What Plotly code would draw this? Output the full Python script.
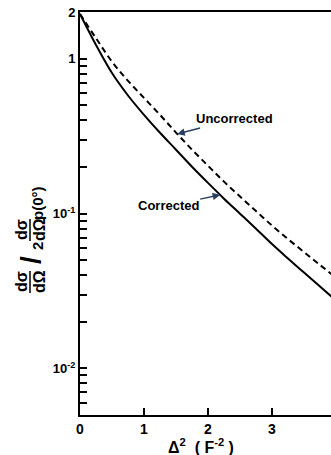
import numpy as np
import plotly.graph_objects as go

# ---- data ----
delta_sq = [0.0, 0.25, 0.5, 0.75, 1.0, 1.25, 1.5, 1.75, 2.0, 2.25, 2.5, 2.75, 3.0, 3.25, 3.5, 3.75, 4.0]
corrected = [1.95, 1.23, 0.81, 0.580, 0.435, 0.333, 0.259, 0.201, 0.158, 0.125, 0.100, 0.080, 0.0636, 0.0513, 0.0416, 0.0338, 0.0275]
uncorrected = [1.95, 1.36, 0.960, 0.722, 0.560, 0.435, 0.334, 0.259, 0.204, 0.161, 0.129, 0.104, 0.0838, 0.0685, 0.0565, 0.0466, 0.0386]

x_ticks = [0, 1, 2, 3]
x_ticklabels = ["0", "1", "2", "3"]
y_major = {2: "2", 1: "1", 0.1: "10<sup>-1</sup>", 0.01: "10<sup>-2</sup>"}
y_minor = [m * 10.0 ** e for e in (-3, -2, -1) for m in range(2, 10) if m * 10.0 ** e > 0.0055]

label_corrected_x = 2.19
label_uncorrected_x = 1.52

X_MAX = 3.922
Y_MIN, Y_MAX = 0.005, 2.0

FONT = "Liberation Sans"

fig = go.Figure()
fig.add_trace(go.Scatter(x=delta_sq, y=corrected, mode="lines",
                         line=dict(color="black", width=2, shape="spline", smoothing=1.0),
                         name="Corrected", showlegend=False))
fig.add_trace(go.Scatter(x=delta_sq, y=uncorrected, mode="lines",
                         line=dict(color="black", width=2, dash="6px,4px", shape="spline", smoothing=1.0),
                         name="Uncorrected", showlegend=False))

tickvals = sorted(set(y_minor) | set(y_major.keys()))
ticktext = [("<b>%s</b>" % y_major[v]) if v in y_major else "" for v in tickvals]

fig.update_layout(
    width=331, height=455,
    margin=dict(l=80, r=0, t=12, b=40),
    paper_bgcolor="white", plot_bgcolor="white",
    font=dict(family=FONT, color="black", size=14),
    xaxis=dict(range=[0, X_MAX], showgrid=False, zeroline=False, showline=True, linecolor="black",
               linewidth=2, mirror=True, ticks="inside", ticklen=7, tickwidth=2, tickcolor="black",
               tickvals=x_ticks, ticktext=["<b>%s</b>" % t for t in x_ticklabels],
               tickfont=dict(size=14, family=FONT)),
    yaxis=dict(type="log", range=[np.log10(Y_MIN), np.log10(Y_MAX) + 0.002], showgrid=False, zeroline=False,
               showline=True, linecolor="black", linewidth=2, mirror=False, ticks="inside", ticklen=7,
               tickwidth=2, tickcolor="black", tickvals=tickvals, ticktext=ticktext,
               tickfont=dict(size=13, family=FONT)),
)

# partially visible "4" tick label at the cut-off right edge
fig.add_annotation(xref="paper", yref="paper", x=4 / X_MAX, y=0, yshift=-12, text="<b>4</b>", showarrow=False,
                   xanchor="center", yanchor="middle", font=dict(size=14, family=FONT))

# curve labels
def interp_log(x, xs, ys):
    return float(10 ** np.interp(x, xs, np.log10(ys)))

fig.add_annotation(x=label_corrected_x, y=np.log10(interp_log(label_corrected_x, delta_sq, corrected)),
                   text="<b>Corrected</b>", showarrow=True, arrowhead=2, arrowsize=1, arrowwidth=1.5,
                   ax=-52, ay=11, xanchor="center", font=dict(size=13, family=FONT))
fig.add_annotation(x=label_uncorrected_x, y=np.log10(interp_log(label_uncorrected_x, delta_sq, uncorrected)),
                   text="<b>Uncorrected</b>", showarrow=True, arrowhead=2, arrowsize=1, arrowwidth=1.5,
                   ax=57, ay=-15, xanchor="center", font=dict(size=13, family=FONT))

# x-axis title
fig.add_annotation(xref="paper", yref="paper", x=0.482, y=-0.076, text="<b>Δ<sup>2</sup>  ( F<sup>-2</sup> )</b>",
                   showarrow=False, xanchor="center", yanchor="middle", font=dict(size=16, family=FONT))

# y-axis title built as stacked fractions, rotated
def px2paper(px, py):
    return (px - 80) / 251.0, (415 - py) / 403.0

ytitle_parts = [
    ("dσ", 21, 282, 16), ("dΩ", 39, 282, 16), ("/", 30, 260, 28), ("2", 38, 246, 15),
    ("dσ", 21, 230, 16), ("dΩ", 39, 230, 16), ("p(0°)", 37, 203, 15),
]
for txt, px, py, size in ytitle_parts:
    xp, yp = px2paper(px, py)
    fig.add_annotation(xref="paper", yref="paper", x=xp, y=yp, text="<b>%s</b>" % txt, textangle=-90,
                       showarrow=False, xanchor="center", yanchor="middle", font=dict(size=size, family=FONT))
for py0, py1 in [(271, 293), (219, 241)]:
    x0, y0 = px2paper(30, py0)
    x1, y1 = px2paper(30, py1)
    fig.add_shape(type="line", xref="paper", yref="paper", x0=x0, x1=x1, y0=y0, y1=y1,
                  line=dict(color="black", width=1.5))

fig.write_html("out.html", config={"displayModeBar": False},
               post_script="document.body.style.margin='0';document.body.style.overflow='hidden';")
